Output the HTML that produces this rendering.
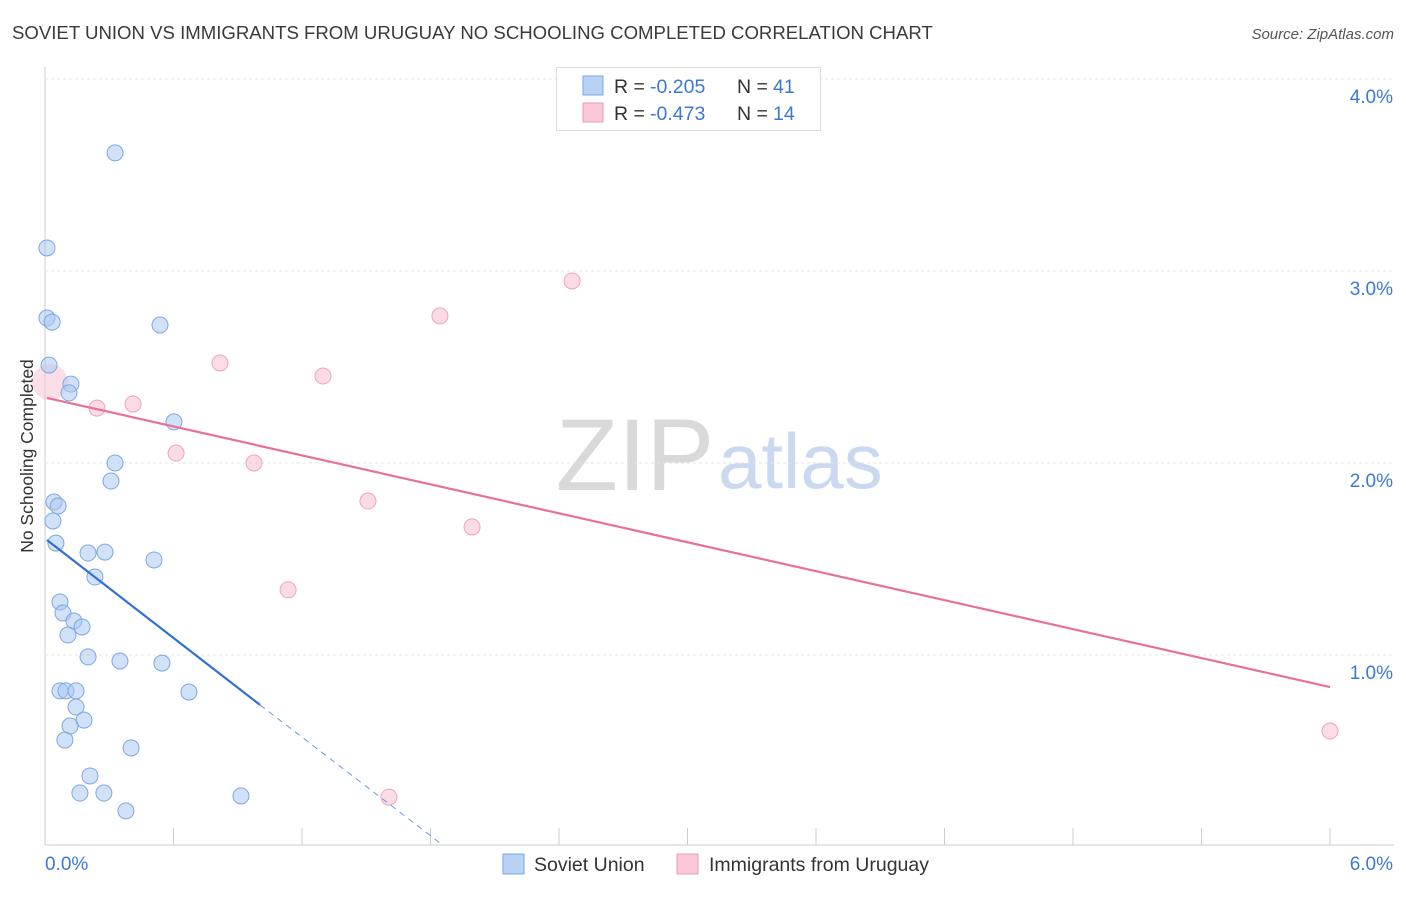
<!DOCTYPE html>
<html><head><meta charset="utf-8"><style>
body{margin:0;background:#fff;font-family:"Liberation Sans",sans-serif;}
svg text{font-family:"Liberation Sans",sans-serif;}
</style></head><body>
<svg id="c" width="1406" height="892">
<text x="12" y="39" font-size="18.6" fill="#3a3a3a">SOVIET UNION VS IMMIGRANTS FROM URUGUAY NO SCHOOLING COMPLETED CORRELATION CHART</text>
<text x="1394" y="39" font-size="15" fill="#555" font-style="italic" text-anchor="end">Source: ZipAtlas.com</text>
<text x="33" y="456" font-size="17.5" fill="#333" text-anchor="middle" transform="rotate(-90 33 456)">No Schooling Completed</text>
<g>
<text x="635" y="490" font-size="102" fill="#d9d9d9" font-family="Liberation Serif,serif" text-anchor="middle">ZIP</text>
<text x="718" y="488" font-size="78" fill="#c9daf0">atlas</text>
</g>
<g id="grid"></g><g id="marks"></g>
<g>
<rect x="556.5" y="67.5" width="264" height="63" fill="#fff" stroke="#ddd"/>
<rect x="583" y="76" width="20" height="19" fill="#b7d2f5" stroke="#7aa6e3"/>
<rect x="583" y="103" width="20" height="19" fill="#fac8d8" stroke="#ee9ab5"/>
<g font-size="19.5">
<text x="614" y="93" fill="#333">R =</text><text x="650" y="93" fill="#3b78d8">-0.205</text>
<text x="737" y="93" fill="#333">N =</text><text x="773" y="93" fill="#3b78d8">41</text></g>
<g font-size="19.5">
<text x="614" y="120" fill="#333">R =</text><text x="650" y="120" fill="#3b78d8">-0.473</text>
<text x="737" y="120" fill="#333">N =</text><text x="773" y="120" fill="#3b78d8">14</text></g>
</g>
<g>
<rect x="503" y="854" width="21" height="20" fill="#b7d2f5" stroke="#7aa6e3"/>
<text x="534" y="871" font-size="19.5" fill="#333">Soviet Union</text>
<rect x="677" y="854" width="21" height="20" fill="#fac8d8" stroke="#ee9ab5"/>
<text x="709" y="871" font-size="19.5" fill="#333">Immigrants from Uruguay</text>
</g>
</svg>
<script>
const xTicks=[0,6];
const yTicks=[1,2,3,4];
const blueX=[0.327,0.009,0.009,0.033,0.537,0.019,0.121,0.112,0.602,0.327,0.308,0.042,0.061,0.037,0.051,0.201,0.280,0.509,0.233,0.070,0.084,0.135,0.173,0.107,0.201,0.350,0.546,0.070,0.098,0.145,0.672,0.145,0.182,0.117,0.093,0.402,0.210,0.163,0.275,0.915,0.378];
const blueY=[3.615,3.120,2.755,2.734,2.719,2.510,2.411,2.365,2.214,2.000,1.906,1.797,1.776,1.698,1.583,1.531,1.536,1.495,1.406,1.276,1.219,1.177,1.146,1.104,0.990,0.969,0.958,0.813,0.813,0.813,0.807,0.729,0.661,0.630,0.557,0.516,0.370,0.281,0.281,0.266,0.188];
const pinkX=[0.023,0.243,0.411,0.817,0.612,0.976,1.298,1.844,2.461,1.508,1.994,1.135,1.606,6.0];
const pinkY=[2.422,2.286,2.307,2.521,2.052,2.000,2.453,2.766,2.948,1.802,1.667,1.339,0.260,0.604];
const blueTrend=[[0.009,1.599],[1.004,0.740]];
const blueDash=[[1.004,0.740],[1.844,0.021]];
const pinkTrend=[[0.009,2.339],[6.0,0.833]];
const X=v=>45+v*214.17, Y=v=>847-v*192;
const NS="http://www.w3.org/2000/svg";
function mk(p,t,a){const e=document.createElementNS(NS,t);for(const k in a)e.setAttribute(k,a[k]);p.appendChild(e);return e;}
const g=document.getElementById('grid'), m=document.getElementById('marks');
let l=mk(g,'line',{x1:45,y1:67,x2:45,y2:845,stroke:'#ccc'});

l=mk(g,'line',{x1:45,y1:845,x2:1394,y2:845,stroke:'#ccc'});

l=mk(g,'line',{x1:45,y1:79,x2:1394,y2:79,stroke:'#ddd','stroke-dasharray':'3,3'});

yTicks.forEach(t=>{
 const ln=mk(g,'line',{x1:45,y1:Y(t),x2:1394,y2:Y(t),stroke:'#e3e3e3','stroke-dasharray':'3,3'});
 
 const tx=mk(g,'text',{x:1393,y:Y(t)+24,'font-size':19,fill:'#3b78d8','text-anchor':'end'});tx.textContent=t.toFixed(1)+'%';
 
});
for(let i=0;i<=10;i++){const x=X(i*0.6);const t=mk(g,'line',{x1:x,y1:828,x2:x,y2:845,stroke:'#ccc'});
 }
xTicks.forEach((t,i)=>{const tx=mk(g,'text',{x:i?1393:45,y:870,'font-size':19,fill:'#3b78d8','text-anchor':i?'end':'start'});tx.textContent=t.toFixed(1)+'%';
 });
let c=mk(m,'circle',{cx:X(pinkX[0]),cy:Y(pinkY[0]),r:18,fill:'rgba(248,190,210,0.5)'});

pinkX.forEach((x,i)=>{if(!i)return;const p=mk(m,'circle',{cx:X(x),cy:Y(pinkY[i]),r:8,fill:'rgba(248,190,210,0.55)',stroke:'#eea3bd','stroke-width':1});
 });
blueX.forEach((x,i)=>{const p=mk(m,'circle',{cx:X(x),cy:Y(blueY[i]),r:8,fill:'rgba(170,200,242,0.55)',stroke:'#7ea7e0','stroke-width':1});
 });
l=mk(m,'line',{x1:X(pinkTrend[0][0]),y1:Y(pinkTrend[0][1]),x2:X(pinkTrend[1][0]),y2:Y(pinkTrend[1][1]),stroke:'#e8709a','stroke-width':2.2});

l=mk(m,'line',{x1:X(blueTrend[0][0]),y1:Y(blueTrend[0][1]),x2:X(blueTrend[1][0]),y2:Y(blueTrend[1][1]),stroke:'#2f6fd6','stroke-width':2.2});

l=mk(m,'line',{x1:X(blueDash[0][0]),y1:Y(blueDash[0][1]),x2:X(blueDash[1][0]),y2:Y(blueDash[1][1]),stroke:'#6d98de','stroke-width':1,'stroke-dasharray':'6,5'});

</script>
</body></html>
